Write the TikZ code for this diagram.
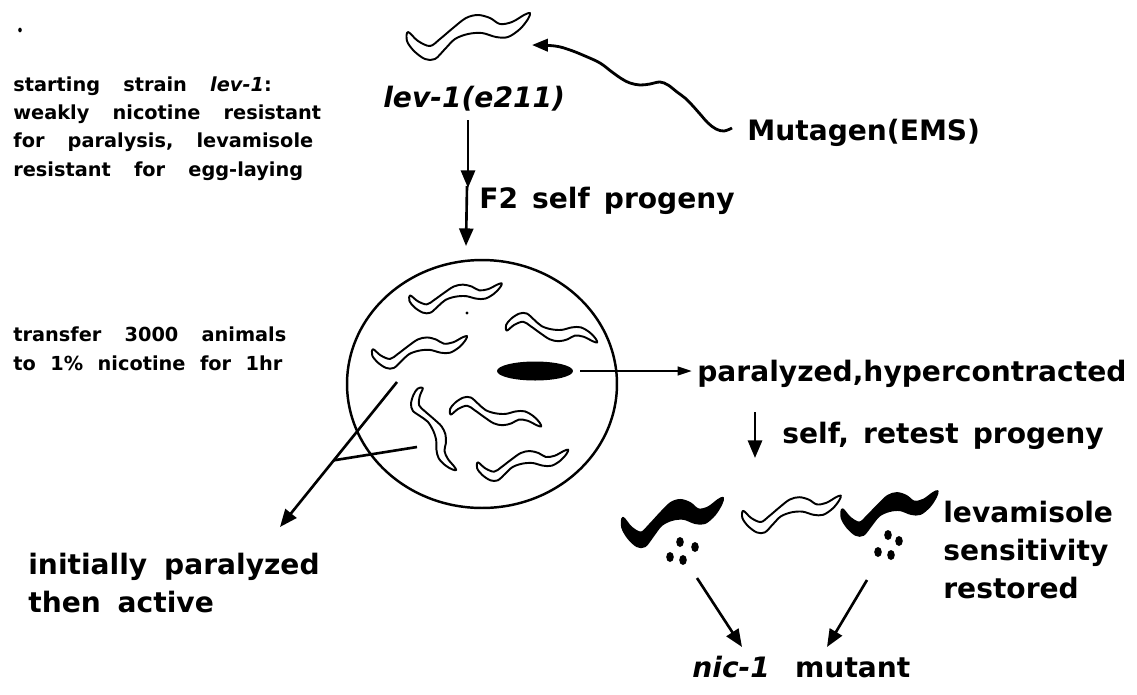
\documentclass[tikz,border=0pt]{standalone}
\usepackage{fontspec}
\setmainfont{DejaVu Sans}
\usetikzlibrary{arrows.meta,calc,shapes.geometric}
\newcommand\notefont{\fontsize{11}{16}\selectfont\bfseries\spaceskip=1.2em\relax}
\newcommand\bigfont{\fontsize{16}{21.5}\selectfont\bfseries\spaceskip=0.9em\relax}
\newcommand\tightsp{\spaceskip=0.6em\relax}
\tikzset{
  pics/worm/.style={code={
    \draw[line width=1.1pt,fill=#1,line join=round]
      plot[smooth cycle,tension=0.55] coordinates {
        (-61,-4) (-51,5) (-39,10) (-29,3) (-16,-8) (-3,-18) (9,-21) (21,-18)
        (31,-12) (43,-14) (55,-21) (61,-23) (59,-17) (51,-7) (39,1) (27,1)
        (13,-3) (-1,-2) (-14,3) (-24,13) (-34,23) (-44,23) (-55,15) (-62,5)};
  }},
  pics/worm/.default=white,
}
\begin{document}
\begin{tikzpicture}[
  x=0.02cm, y=-0.02cm,
  notetxt/.style={font=\notefont,anchor=base west,inner sep=0pt,align=left},
  bigtxt/.style ={font=\bigfont,anchor=base west,inner sep=0pt,align=left},
  arr/.style    ={line width=1.5pt,-{Triangle[length=10pt,width=8pt]}},
  thinarr/.style={line width=1.1pt,-{Triangle[length=8pt,width=5pt]}},
  stroke/.style ={line width=1.5pt},
  wavy/.style   ={line width=1.6pt,line join=round,-{Triangle[length=9pt,width=7pt]}},
  egg/.style    ={fill=black}
]
\useasboundingbox (0,0) rectangle (1137,694);

% labels (multi-line nodes sit on their last baseline)
\node[notetxt] (strain) at (13,176)
  {starting strain \textit{lev-1}:\\weakly nicotine resistant\\for paralysis, levamisole\\resistant for egg-laying};
\node[notetxt] (transfer) at (13,370)
  {transfer 3000 animals\\{\spaceskip=0.75em\relax to 1\% nicotine for 1hr}};
\node[bigtxt] (lev)     at (383,107) {\textit{lev-1(e211)}};
\node[bigtxt] (mutagen) at (747,140) {Mutagen(EMS)};
\node[bigtxt] (f2)      at (479,208) {\spaceskip=0.5em\relax F2 self progeny};
\node[bigtxt] (hyper)   at (697,381) {paralyzed,hypercontracted};
\node[bigtxt] (retest)  at (782,443) {\spaceskip=0.5em\relax self, retest progeny};
\node[bigtxt] (sens)    at (943,598) {levamisole\\sensitivity\\restored};
\node[bigtxt] (active)  at (28,612)  {\tightsp initially paralyzed\\\tightsp then active};
\node[bigtxt] (nic)     at (692,677) {\textit{nic-1} mutant};

% starting worm and mutagen
\pic (topworm) at (469,36) {worm};
\coordinate (mutstart) at (732,128);
\coordinate (muttip) at (532,45);
\draw[wavy] plot[smooth,tension=0.6] coordinates {(mutstart) (724,131) (716,129) (708,123)
  (700,114) (692,105) (685,98) (677,92) (668,85) (660,82) (650,84) (640,85) (630,83)
  (622,79) (612,72) (600,63) (585,56) (570,50) (555,46) (muttip)};

\coordinate (levtail) at (468,120);
\coordinate (levhead) at (468,188);
\coordinate (f2tail)  at (467,186);
\coordinate (f2head)  at (466,246);
\draw[arr] (levtail) -- (levhead);
\draw[arr] (f2tail) -- (f2head);

% plate with worms
\node[ellipse,draw,line width=1.4pt,minimum width=5.4cm,minimum height=4.96cm,inner sep=0pt]
  (plate) at (482,384) {};
\pic (w1) at (456,298) [scale=0.75,yscale=0.85] {worm};
\pic (w2) at (552,328) [scale=0.74,yscale=-0.85] {worm};
\pic (w3) at (420,352) [scale=0.77,yscale=0.9] {worm};
\pic (w4) at (432,431) [rotate=-75,scale=0.72,yscale=0.8] {worm};
\pic (w5) at (496,412) [scale=0.74,yscale=-0.85] {worm};
\pic (w6) at (523,465) [scale=0.74,yscale=0.9] {worm};
\fill (467,313) circle (1.6);
\fill (20,30) ellipse (1.8 and 2.4);
\node[ellipse,fill=black,minimum width=1.52cm,minimum height=0.38cm,inner sep=0pt]
  (blob) at (535,371) {};
\draw[thinarr,shorten <=4pt,shorten >=3pt] (blob.east) -- (blob.east -| hyper.west);

% recovered active animals
\coordinate (w3foot) at (397,382);
\coordinate (w4foot) at (417,447);
\coordinate (acttip) at (280,527);
\coordinate (join) at ($(w3foot)!0.54!(acttip)$);
\draw[arr] (w3foot) -- (acttip);
\draw[stroke] (w4foot) -- (join);

% retest of progeny
\coordinate (rtail) at (755,412);
\coordinate (rhead) at (755,458);
\draw[arr] (rtail) -- (rhead);
\pic (bw1) at (673,522) [xscale=0.82,yscale=1.05] {worm=black};
\pic (bw2) at (792,514) [scale=0.8] {worm};
\pic (bw3) at (890,513) [xscale=0.78,yscale=0.95] {worm=black};
\foreach \ex/\ey in {680/542,695/547,670/557,683/560,888/535,899/541,878/552,891/555}
  \fill[egg] (\ex,\ey) ellipse (3.8 and 5);

\coordinate (ltail) at (697,578);
\coordinate (lhead) at (742,647);
\coordinate (rgtail) at (867,580);
\coordinate (rghead) at (827,647);
\draw[arr] (ltail) -- (lhead);
\draw[arr] (rgtail) -- (rghead);
\end{tikzpicture}
\end{document}
